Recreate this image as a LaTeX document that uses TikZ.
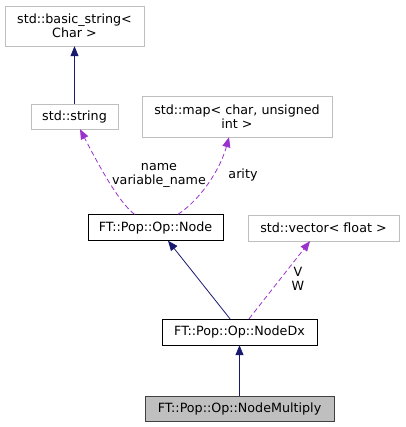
\documentclass[tikz,border=0pt]{standalone}
\usepackage{fontspec}
\setmainfont{DejaVu Sans}
\usetikzlibrary{arrows.meta}

\definecolor{edgeblue}{HTML}{191970}
\definecolor{usepurple}{HTML}{9A32CD}
\definecolor{boxgray}{HTML}{BFBFBF}

\begin{document}
\begin{tikzpicture}[x=1pt, y=-1pt,
klass/.style={draw=black, fill=white, inner sep=0pt, align=center, font=\fontsize{12.7}{14}\selectfont},
extern/.style={klass, draw=boxgray},
inherit/.style={draw=edgeblue, thick, -{Triangle[length=10pt,width=8pt]}},
usage/.style={draw=usepurple, thick, dashed, dash pattern=on 5pt off 3pt, -{Triangle[length=10pt,width=8pt]}}]
\tikzstyle{lbl}=[align=center, font=\fontsize{12.7}{14}\selectfont]
\useasboundingbox (0,0) rectangle (405,427);

%External types
\node[extern, minimum width=139pt, minimum height=40pt] (basicstring) at (74.5,26) {std::basic\_string<\\Char >};
\node[extern, minimum width=87pt, minimum height=25pt] (string) at (74.5,116.5) {std::string};
\node[extern, minimum width=190pt, minimum height=41pt] (map) at (237,116.5) {std::map< char, unsigned\\int >};
\node[extern, minimum width=151pt, minimum height=26pt] (vector) at (323.5,228) {std::vector< float >};
%Classes
\node[klass, minimum width=135pt, minimum height=26pt] (node) at (155.5,227.5) {FT::Pop::Op::Node};
\node[klass, minimum width=155pt, minimum height=26pt] (nodedx) at (239.5,332) {FT::Pop::Op::NodeDx};
\node[klass, fill=boxgray, draw=black!75, minimum width=189pt, minimum height=25pt] (multiply) at (239.5,408.5) {FT::Pop::Op::NodeMultiply};

%Inheritance
\draw[inherit] (string) -- (basicstring);
\draw[inherit] ([xshift=-9.5pt]nodedx.north) -- ([xshift=12.5pt]node.south);
\draw[inherit] (multiply) -- (nodedx);
%Members
\draw[usage] ([xshift=-21pt]node.north) .. controls (118,202) and (96,160) .. ([xshift=5.5pt]string.south);
\draw[usage] ([xshift=22.5pt]node.north) .. controls (200,200) and (220,170) .. ([xshift=-8pt]map.south);
\draw[usage] ([xshift=9.5pt]nodedx.north) -- ([xshift=-13.5pt]vector.south);
\node[lbl] (namelbl) at (159,175) {name\\variable\_name};
\node[lbl] (aritylbl) at (243,175) {arity};
\node[lbl] (vwlbl) at (298,279) {V\\W};
\end{tikzpicture}
\end{document}
